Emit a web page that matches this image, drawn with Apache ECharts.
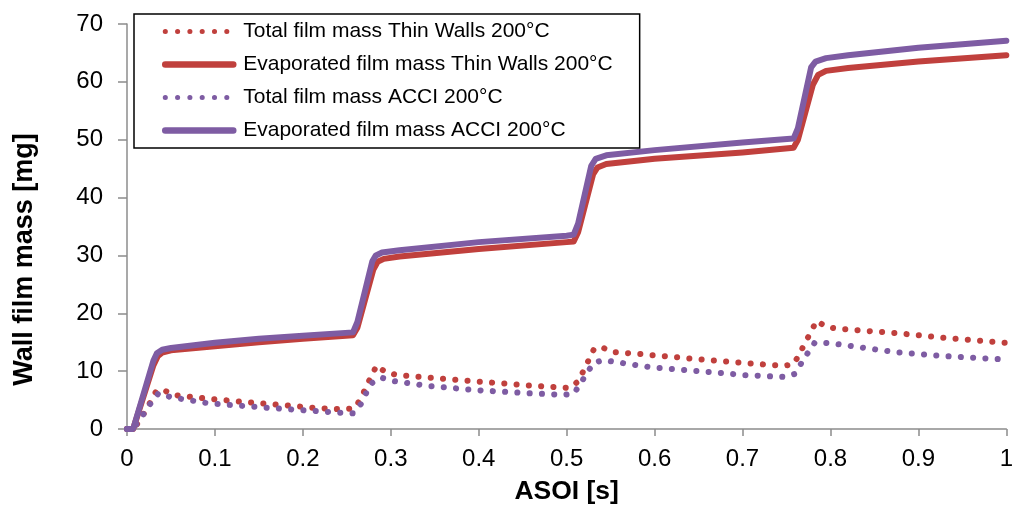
<!DOCTYPE html>
<html>
<head>
<meta charset="utf-8">
<script src="https://cdn.jsdelivr.net/npm/echarts@6/dist/echarts.min.js"></script>
<style>
  html, body { margin: 0; padding: 0; background: #fff; }
  #box { width: 1016px; height: 512px; }
</style>
</head>
<body>
<div id="box"></div>
<script>
// series names
const seriesNames = [
  'Total film mass Thin Walls 200°C',
  'Evaporated film mass Thin Walls 200°C',
  'Total film mass ACCI 200°C',
  'Evaporated film mass ACCI 200°C'
];

// [ASOI s, mass mg]
const totalThinWalls = [
  [0, 0], [0.007, 0], [0.015, 1.5], [0.022, 3.5], [0.028, 5], [0.033, 6.5], [0.04, 6.9],
  [0.052, 5.9], [0.094, 5.2], [0.163, 4.3], [0.218, 3.6], [0.246, 3.4], [0.259, 3.6],
  [0.266, 5.3], [0.272, 7.3], [0.278, 9.2], [0.284, 11.0], [0.295, 9.7], [0.31, 9.3],
  [0.391, 8.3], [0.459, 7.5], [0.503, 7.1], [0.512, 8.1], [0.519, 10], [0.525, 11.9],
  [0.531, 13.8], [0.539, 14.2], [0.552, 13.3], [0.58, 13.0], [0.662, 11.9], [0.746, 10.9],
  [0.758, 11.2], [0.765, 13], [0.771, 14.9], [0.778, 16.8], [0.784, 18.7], [0.796, 17.6],
  [0.81, 17.3], [0.873, 16.6], [0.934, 15.7], [1, 14.9]
];
const evapThinWalls = [
  [0, 0], [0.007, 0], [0.03, 11], [0.035, 12.6], [0.04, 13.2], [0.05, 13.6], [0.1, 14.3],
  [0.15, 15.0], [0.2, 15.6], [0.257, 16.2], [0.262, 17.5], [0.28, 27.5], [0.285, 28.9],
  [0.292, 29.4], [0.31, 29.8], [0.4, 31.1], [0.5, 32.3], [0.508, 32.4], [0.513, 34],
  [0.53, 44], [0.535, 45.2], [0.545, 45.8], [0.6, 46.7], [0.7, 47.8], [0.758, 48.6],
  [0.763, 50], [0.78, 59.5], [0.786, 61.2], [0.795, 61.9], [0.82, 62.4], [0.9, 63.5], [1, 64.6]
];
const totalAcci = [
  [0, 0], [0.008, 0], [0.012, 1.2], [0.02, 2.8], [0.028, 4.7], [0.036, 6.2], [0.05, 5.5],
  [0.09, 4.5], [0.147, 3.8], [0.215, 3.1], [0.243, 2.8], [0.257, 2.7], [0.266, 4.3],
  [0.272, 6.2], [0.279, 8.0], [0.289, 8.9], [0.302, 8.3], [0.345, 7.4], [0.399, 6.7],
  [0.454, 6.2], [0.496, 5.9], [0.508, 6.1], [0.516, 7.9], [0.523, 9.7], [0.531, 11.4],
  [0.541, 11.9], [0.555, 11.6], [0.594, 10.7], [0.704, 9.3], [0.748, 9.0], [0.759, 9.5],
  [0.767, 11.4], [0.774, 13.1], [0.782, 14.9], [0.793, 14.9], [0.806, 14.7], [0.873, 13.3],
  [0.93, 12.6], [1, 12.0]
];
const evapAcci = [
  [0, 0], [0.007, 0], [0.03, 11.8], [0.034, 13.1], [0.04, 13.7], [0.05, 14.0], [0.1, 14.9],
  [0.15, 15.6], [0.2, 16.1], [0.257, 16.7], [0.262, 18.5], [0.279, 29], [0.283, 30.0],
  [0.29, 30.5], [0.31, 30.9], [0.4, 32.3], [0.5, 33.4], [0.508, 33.6], [0.513, 35.5],
  [0.528, 45.5], [0.533, 46.7], [0.545, 47.3], [0.6, 48.2], [0.7, 49.5], [0.758, 50.2],
  [0.763, 52], [0.778, 62.5], [0.783, 63.5], [0.795, 64.1], [0.82, 64.6], [0.9, 65.9], [1, 67.1]
];

const red = '#C0403D';
const purple = '#7E5CA3';
const font = 'Arial, "Liberation Sans", sans-serif';
const dots = [0.1, 12.2];

let myecharts = echarts.init(document.getElementById('box'));

function dotted(name, data, color) {
  return {
    name: name, type: 'line', data: data, showSymbol: false, symbol: 'none',
    itemStyle: {color: color},
    lineStyle: {color: color, width: 6, type: dots, cap: 'round', join: 'round'}
  };
}
function solid(name, data, color) {
  return {
    name: name, type: 'line', data: data, showSymbol: false, symbol: 'none',
    itemStyle: {color: color},
    lineStyle: {color: color, width: 6, cap: 'round', join: 'round'}
  };
}

let option = {
  animation: false,
  textStyle: {fontFamily: font},
  legend: {
    orient: 'vertical',
    left: 134,
    top: 14,
    padding: [7, 27, 7, 28],
    itemGap: 12,
    itemWidth: 68,
    itemHeight: 14,
    borderColor: '#000',
    borderWidth: 1.5,
    textStyle: {fontSize: 21, color: '#000', fontFamily: font, lineHeight: 21, padding: [0, 0, 0, 5]},
    data: [
      {name: seriesNames[0], itemStyle: {opacity: 0}, lineStyle: {width: 5, type: dots, cap: 'round'}},
      {name: seriesNames[1], itemStyle: {opacity: 0}, lineStyle: {width: 6.5}},
      {name: seriesNames[2], itemStyle: {opacity: 0}, lineStyle: {width: 5, type: dots, cap: 'round'}},
      {name: seriesNames[3], itemStyle: {opacity: 0}, lineStyle: {width: 6.5}}
    ]
  },
  grid: {left: 127, right: 4, top: 24, bottom: 83},
  xAxis: {
    type: 'value', min: 0, max: 1, interval: 0.1,
    name: 'ASOI [s]', nameLocation: 'middle', nameGap: 49,
    nameTextStyle: {fontSize: 26.5, fontWeight: 'bold', color: '#000', fontFamily: font},
    axisLine: {lineStyle: {color: '#8C8C8C', width: 1.5}},
    axisTick: {show: true, length: 7, lineStyle: {color: '#8C8C8C', width: 1.5}},
    axisLabel: {fontSize: 24, color: '#000', margin: 18, fontFamily: font},
    splitLine: {show: false}
  },
  yAxis: {
    type: 'value', min: 0, max: 70, interval: 10,
    name: 'Wall film mass [mg]', nameLocation: 'middle', nameGap: 89,
    nameTextStyle: {fontSize: 27, fontWeight: 'bold', color: '#000', fontFamily: font, padding: [0, 66, 0, 0]},
    axisLine: {show: true, lineStyle: {color: '#8C8C8C', width: 1.5}},
    axisTick: {show: true, length: 9, lineStyle: {color: '#8C8C8C', width: 1.5}},
    axisLabel: {fontSize: 24, color: '#000', margin: 24, fontFamily: font},
    splitLine: {show: false}
  },
  series: [
    dotted(seriesNames[0], totalThinWalls, red),
    solid(seriesNames[1], evapThinWalls, red),
    dotted(seriesNames[2], totalAcci, purple),
    solid(seriesNames[3], evapAcci, purple)
  ]
};
myecharts.setOption(option);
</script>
</body>
</html>
